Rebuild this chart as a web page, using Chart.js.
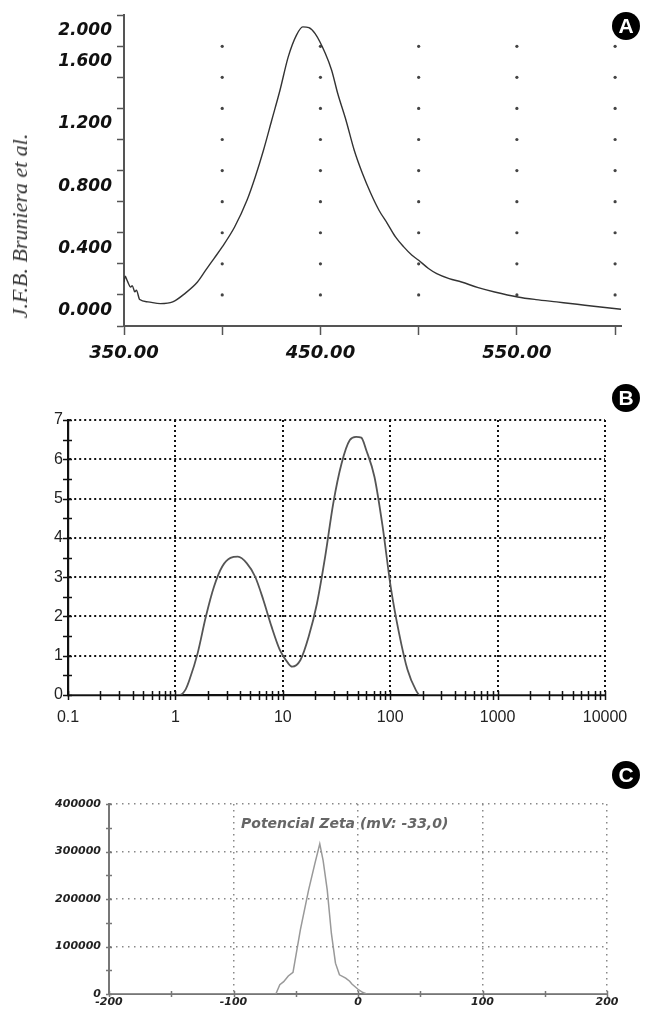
<!DOCTYPE html>
<html><head><meta charset="utf-8">
<script src="https://cdn.jsdelivr.net/npm/chart.js@4.4.1/dist/chart.umd.min.js"></script>
<style>
html,body{margin:0;padding:0;background:#fff;}
body{width:648px;height:1011px;position:relative;overflow:hidden;}
.panel{position:absolute;left:0;width:648px;}
.badge{position:absolute;width:28px;height:28px;border-radius:50%;background:#000;color:#fff;font:bold 21px 'Liberation Sans',Arial,sans-serif;text-align:center;line-height:28px;}
.author{position:absolute;left:20px;top:226px;transform:translate(-50%,-50%) rotate(-90deg);white-space:nowrap;font:italic 22px 'Liberation Serif',serif;color:#333;}
.zeta{position:absolute;left:241px;top:815px;font:italic bold 14px 'DejaVu Sans',sans-serif;color:#666;white-space:nowrap;}
</style></head>
<body>
<div class="panel" style="top:0;height:370px"><canvas id="cA"></canvas></div>
<div class="panel" style="top:370px;height:380px"><canvas id="cB"></canvas></div>
<div class="panel" style="top:750px;height:261px"><canvas id="cC"></canvas></div>
<div class="author">J.F.B. Bruniera et al.</div>
<div class="badge" style="left:612px;top:12px">A</div>
<div class="badge" style="left:612px;top:384px">B</div>
<div class="badge" style="left:612px;top:761px">C</div>
<div class="zeta">Potencial Zeta (mV: -33,0)</div>
<script>
// ---- Panel A: UV-Vis absorbance ----
const wavelengthA = [350, 350.6, 351.7, 353.4, 354.2, 355.5, 356.3, 358, 362.2, 368.5, 374.8, 381.1, 387.4, 391.6, 395.8, 400, 406.3, 412.6, 416.8, 421, 425.2, 429.4, 433.6, 437.8, 441, 444.1, 447.3, 452.5, 455.7, 458.8, 463, 467.2, 471.4, 475.6, 479.8, 484, 488.2, 492.4, 496.6, 500, 505, 509.2, 515.5, 521.8, 530.3, 538.7, 550.4, 559.7, 570.2, 580.7, 589.1, 603];
const absorbanceA = [0.183, 0.22, 0.19, 0.151, 0.16, 0.12, 0.13, 0.07, 0.055, 0.044, 0.055, 0.11, 0.183, 0.259, 0.334, 0.409, 0.537, 0.709, 0.859, 1.031, 1.224, 1.417, 1.632, 1.772, 1.825, 1.82, 1.782, 1.654, 1.546, 1.396, 1.224, 1.031, 0.881, 0.754, 0.645, 0.561, 0.473, 0.409, 0.355, 0.323, 0.27, 0.237, 0.205, 0.183, 0.147, 0.119, 0.087, 0.07, 0.055, 0.04, 0.027, 0.008];
const xTickValsA = [350, 400, 450, 500, 550, 600];
const xLabelsA = ['350.00', '', '450.00', '', '550.00', ''];
const yTickValsA = [-0.1, 0.1, 0.3, 0.5, 0.7, 0.9, 1.1, 1.3, 1.5, 1.7, 1.9];
const yLabelValsA = [0, 0.4, 0.8, 1.2, 1.6, 1.8];
const yLabelsA = ['0.000', '0.400', '0.800', '1.200', '1.600', '2.000'];

// ---- Panel B: size distribution (log x) ----
const sizeB = [0.1, 1.1, 1.25, 1.35, 1.61, 1.92, 2.29, 2.73, 3.26, 3.82, 4.63, 5.53, 6.59, 7.86, 9.38, 11.2, 12.2, 14.6, 17.4, 20.8, 24.8, 29.5, 35.3, 42.1, 48.1, 53.8, 59.9, 71.4, 85.1, 101, 121, 145, 173, 189, 10000];
const intensityB = [0, 0, 0.15, 0.38, 1.06, 1.99, 2.76, 3.27, 3.49, 3.52, 3.35, 3.01, 2.42, 1.74, 1.15, 0.81, 0.72, 0.89, 1.48, 2.33, 3.52, 4.88, 5.9, 6.49, 6.57, 6.55, 6.23, 5.55, 4.28, 2.76, 1.57, 0.64, 0.13, 0, 0];
const xTickValsB = [0.1,0.2,0.3,0.4,0.5,0.6,0.7,0.8,0.9,1,2,3,4,5,6,7,8,9,10,20,30,40,50,60,70,80,90,100,200,300,400,500,600,700,800,900,1000,2000,3000,4000,5000,6000,7000,8000,9000,10000];
const xLabelValsB = [0.1, 1, 10, 100, 1000, 10000];
const xLabelsB = ['0.1', '1', '10', '100', '1000', '10000'];
const yLabelsB = ['0', '1', '2', '3', '4', '5', '6', '7'];

// ---- Panel C: zeta potential ----
const mvC = [-200, -66, -62.8, -59.7, -56, -52.2, -46.3, -39.7, -34.7, -30.7, -28, -24.7, -21.4, -18.1, -14.9, -9.9, -6.7, -4.9, 0, 4, 7, 200];
const countsC = [0, 0, 19500, 26000, 38000, 45600, 135000, 218600, 274000, 316000, 281000, 218600, 128000, 65000, 40400, 33500, 27000, 21000, 10000, 3000, 0, 0];
const xLabelsC = ['-200', '-100', '0', '100', '200'];
const yLabelsC = ['0', '100000', '200000', '300000', '400000'];

const near = (a, b) => Math.abs(a - b) < 1e-6;
const noTip = {legend:{display:false}, tooltip:{enabled:false}};

// dot grid for panel A (at tick intersections, from scale ticks)
const dotGrid = {
  id: 'dotGrid',
  beforeDatasetsDraw(chart) {
    const xs = chart.scales.x, ys = chart.scales.y, ctx = chart.ctx;
    ctx.save(); ctx.fillStyle = '#444';
    const xv = xTickValsA.filter(v => v > xs.min);
    const yv = yTickValsA.slice(1, -1);
    for (const a of xv) for (const b of yv) {
      ctx.beginPath(); ctx.arc(xs.getPixelForValue(a), ys.getPixelForValue(b), 1.6, 0, 2 * Math.PI); ctx.fill();
    }
    ctx.restore();
  }
};
// ticks crossing the axis lines
function crossTicks(color, width, outLen, inLen) {
  return {
    id: 'crossTicks',
    afterDatasetsDraw(chart) {
      const ctx = chart.ctx, a = chart.chartArea, xs = chart.scales.x, ys = chart.scales.y;
      ctx.save(); ctx.strokeStyle = color; ctx.lineWidth = width; ctx.beginPath();
      xs.ticks.forEach((t, i) => { const p = Math.round(xs.getPixelForTick(i)) + 0.5; ctx.moveTo(p, a.bottom - inLen); ctx.lineTo(p, a.bottom + outLen); });
      ys.ticks.forEach((t, i) => { const p = Math.round(ys.getPixelForTick(i)) + 0.5; ctx.moveTo(a.left - outLen, p); ctx.lineTo(a.left + inLen, p); });
      ctx.stroke(); ctx.restore();
    }
  };
}

// ---------- Chart A ----------
const fontA = {family: "'DejaVu Sans', Verdana, sans-serif", weight: 'bold', style: 'italic'};
new Chart(document.getElementById('cA'), {
  type: 'line',
  data: {datasets: [{data: wavelengthA.map((x, i) => ({x, y: absorbanceA[i]})), borderColor: '#333', borderWidth: 1.4, pointRadius: 0, cubicInterpolationMode: 'monotone', fill: false}]},
  options: {
    responsive: true, maintainAspectRatio: false, animation: false,
    layout: {padding: {top: 15, right: 27, left: 0, bottom: 0}},
    plugins: noTip,
    scales: {
      x: {type: 'linear', min: 350, max: 603,
        afterBuildTicks: s => { s.ticks = xTickValsA.map(v => ({value: v})); },
        afterFit: s => { s.height = 44; },
        grid: {drawOnChartArea: false, drawTicks: true, tickLength: 9, tickColor: '#555', tickWidth: 1.5},
        border: {display: true, color: '#555', width: 2},
        ticks: {autoSkip: false, maxRotation: 0, padding: 8, color: '#111', font: Object.assign({size: 18}, fontA),
          callback: (v, i) => xLabelsA[i]}
      },
      y: {type: 'linear', min: -0.1, max: 1.9,
        afterBuildTicks: s => { s.ticks = yTickValsA.concat(yLabelValsA).sort((a, b) => a - b).map(v => ({value: v})); },
        afterFit: s => { s.width = 124; },
        grid: {drawOnChartArea: false, drawTicks: true, tickLength: 7, tickWidth: 1.5,
          tickColor: c => yTickValsA.some(v => near(v, c.tick.value)) ? '#555' : 'transparent'},
        border: {display: true, color: '#555', width: 2},
        ticks: {autoSkip: false, padding: 5, color: '#111', font: Object.assign({size: 17}, fontA),
          callback: v => { const k = yLabelValsA.findIndex(u => near(u, v)); return k >= 0 ? yLabelsA[k] : ''; }}
      }
    }
  },
  plugins: [dotGrid]
});

// ---------- Chart B ----------
const fontB = {family: "'Liberation Sans Narrow', 'Arial Narrow', 'Liberation Sans', sans-serif", size: 16};
new Chart(document.getElementById('cB'), {
  type: 'line',
  data: {datasets: [{data: sizeB.map((x, i) => ({x, y: intensityB[i]})), borderColor: '#555', borderWidth: 1.8, pointRadius: 0, cubicInterpolationMode: 'monotone', fill: false}]},
  options: {
    responsive: true, maintainAspectRatio: false, animation: false,
    layout: {padding: {top: 50, right: 43, left: 0, bottom: 0}},
    plugins: noTip,
    scales: {
      x: {type: 'logarithmic', min: 0.1, max: 10000,
        afterBuildTicks: s => { s.ticks = xTickValsB.map(v => ({value: v})); },
        afterFit: s => { s.height = 55; },
        grid: {drawTicks: false, lineWidth: 2,
          color: c => (c.tick && xLabelValsB.some(v => near(v, c.tick.value)) && c.tick.value > 0.1) ? '#111' : 'transparent'},
        border: {display: true, color: '#111', width: 2.2, dash: [2, 3]},
        ticks: {autoSkip: false, maxRotation: 0, padding: 13, color: '#222', font: fontB,
          callback: v => { const k = xLabelValsB.findIndex(u => near(u, v)); return k >= 0 ? xLabelsB[k] : ''; }}
      },
      y: {type: 'linear', min: 0, max: 7,
        afterBuildTicks: s => { const t = []; for (let i = 0; i <= 14; i++) t.push({value: i / 2}); s.ticks = t; },
        afterFit: s => { s.width = 68; },
        grid: {drawTicks: false, lineWidth: 2,
          color: c => (c.tick && Number.isInteger(c.tick.value) && c.tick.value > 0) ? '#111' : 'transparent'},
        border: {display: true, color: '#111', width: 2.2, dash: [2, 3]},
        ticks: {autoSkip: false, padding: 5, color: '#222', font: fontB,
          callback: v => Number.isInteger(v) ? yLabelsB[v] : ''}
      }
    }
  },
  plugins: [crossTicks('#111', 1.5, 5, 4)]
});

// ---------- Chart C ----------
const fontC = {family: "'DejaVu Sans', Verdana, sans-serif", weight: 'bold', style: 'italic', size: 11};
new Chart(document.getElementById('cC'), {
  type: 'line',
  data: {datasets: [{data: mvC.map((x, i) => ({x, y: countsC[i]})), borderColor: '#999', borderWidth: 1.5, pointRadius: 0, tension: 0, fill: false}]},
  options: {
    responsive: true, maintainAspectRatio: false, animation: false,
    layout: {padding: {top: 54, right: 41, left: 0, bottom: 0}},
    plugins: noTip,
    scales: {
      x: {type: 'linear', min: -200, max: 200,
        ticks: {stepSize: 50, autoSkip: false, maxRotation: 0, padding: 2, color: '#222', font: fontC,
          callback: v => (v % 100 === 0) ? xLabelsC[(v + 200) / 100] : ''},
        afterFit: s => { s.height = 17; },
        grid: {drawTicks: false, lineWidth: 1.5,
          color: c => (c.tick && c.tick.value % 100 === 0 && c.tick.value > -200) ? '#888' : 'transparent'},
        border: {display: true, color: '#777', width: 2, dash: [1.5, 4.5]}
      },
      y: {type: 'linear', min: 0, max: 400000,
        ticks: {stepSize: 50000, autoSkip: false, padding: 8, color: '#222', font: fontC,
          callback: v => (v % 100000 === 0) ? yLabelsC[v / 100000] : ''},
        afterFit: s => { s.width = 109; },
        grid: {drawTicks: false, lineWidth: 1.5,
          color: c => (c.tick && c.tick.value % 100000 === 0 && c.tick.value > 0) ? '#888' : 'transparent'},
        border: {display: true, color: '#777', width: 2, dash: [1.5, 4.5]}
      }
    }
  },
  plugins: [crossTicks('#777', 1.5, 3, 3)]
});
</script>
</body></html>
